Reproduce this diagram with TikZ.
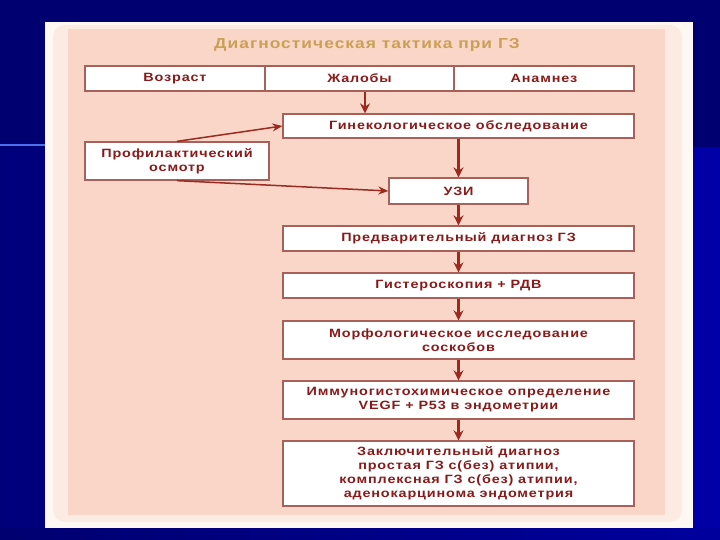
\documentclass[tikz,border=0pt]{standalone}
\usepackage{fontspec}
\usetikzlibrary{arrows.meta,calc}
\newfontfamily\bxf{Liberation Sans}[FakeStretch=1.2,LetterSpace=7]
\definecolor{navytop}{HTML}{000070}
\definecolor{navybot}{HTML}{0000A8}
\definecolor{panelw}{HTML}{FFF8F2}
\definecolor{panelm}{HTML}{FCEBE2}
\definecolor{peach}{HTML}{F9D6C8}
\definecolor{txtred}{HTML}{8A1A1A}
\definecolor{bordred}{HTML}{A8605A}
\definecolor{arrred}{HTML}{9B2A20}
\definecolor{gold}{HTML}{C9A055}
\definecolor{glow}{HTML}{4A70F0}
\tikzset{
  box/.style={draw=bordred,line width=1.3pt,fill=white,inner sep=0pt,
    font=\bxf\bfseries\fontsize{12}{14}\selectfont,text=txtred,align=center},
  arr/.style={draw=arrred,line width=2.2pt,-{Stealth[length=10pt,width=10pt]}},
  thinarr/.style={draw=arrred,line width=1.5pt,-{Stealth[length=10pt,width=8pt]}},
}
\begin{document}
\begin{tikzpicture}[x=1pt,y=-1pt]
\useasboundingbox (0,0) rectangle (720,540);
% background
\fill[navytop] (0,0) rectangle (720,148);
\shade[left color=navytop!80!navybot,right color=navybot] (0,148) rectangle (720,540);
\shade[left color=navytop,right color=navybot!80!navytop] (0,528) rectangle (720,540);
\draw[glow,line width=2.5pt] (0,145) -- (45,145);
% panel
\fill[panelw] (45,22) rectangle (693,528);
\fill[panelm,rounded corners=12pt] (53,25) rectangle (682,522);
\fill[peach] (68,29) rectangle (665,515);
% title
\node[text=gold,font=\bxf\bfseries\fontsize{14.5}{17}\selectfont] (title) at (367,45) {Диагностическая тактика при ГЗ};
% top row
\node[box,minimum width=180pt,minimum height=25pt] (age) at (175,78.5) {Возраст};
\node[box,minimum width=189pt,minimum height=25pt] (compl) at (359.5,78.5) {Жалобы};
\node[box,minimum width=180pt,minimum height=25pt] (anam) at (544,78.5) {Анамнез};
% chain
\node[box,minimum width=351pt,minimum height=24pt] (gyn) at (458.5,126) {Гинекологическое обследование};
\node[box,minimum width=184pt,minimum height=38pt] (prof) at (177,161) {Профилактический\\осмотр};
\node[box,minimum width=139pt,minimum height=26pt] (uzi) at (458.5,191) {УЗИ};
\node[box,minimum width=351pt,minimum height=25pt] (prelim) at (458.5,238.5) {Предварительный диагноз ГЗ};
\node[box,minimum width=351pt,minimum height=25pt] (hyst) at (458.5,285.5) {Гистероскопия + РДВ};
\node[box,minimum width=351pt,minimum height=38pt] (morph) at (458.5,340) {Морфологическое исследование\\соскобов};
\node[box,minimum width=351pt,minimum height=38pt] (immuno) at (458.5,400) {Иммуногистохимическое определение\\VEGF + P53 в эндометрии};
\node[box,minimum width=351pt,minimum height=65pt] (final) at (458.5,473.5) {Заключительный диагноз\\простая ГЗ с(без) атипии,\\комплексная ГЗ с(без) атипии,\\аденокарцинома эндометрия};
% connectors
\draw[arr] ([xshift=5.5pt]compl.south) -- ([xshift=5.5pt]compl.south |- gyn.north);
\draw[thinarr] (prof.north) -- (gyn.west);
\draw[thinarr] (prof.south) -- (uzi.west);
\draw[arr] (gyn.south) -- (uzi.north);
\draw[arr] (uzi.south) -- (prelim.north);
\draw[arr] (prelim.south) -- (hyst.north);
\draw[arr] (hyst.south) -- (morph.north);
\draw[arr] (morph.south) -- (immuno.north);
\draw[arr] (immuno.south) -- (final.north);
\end{tikzpicture}
\end{document}
